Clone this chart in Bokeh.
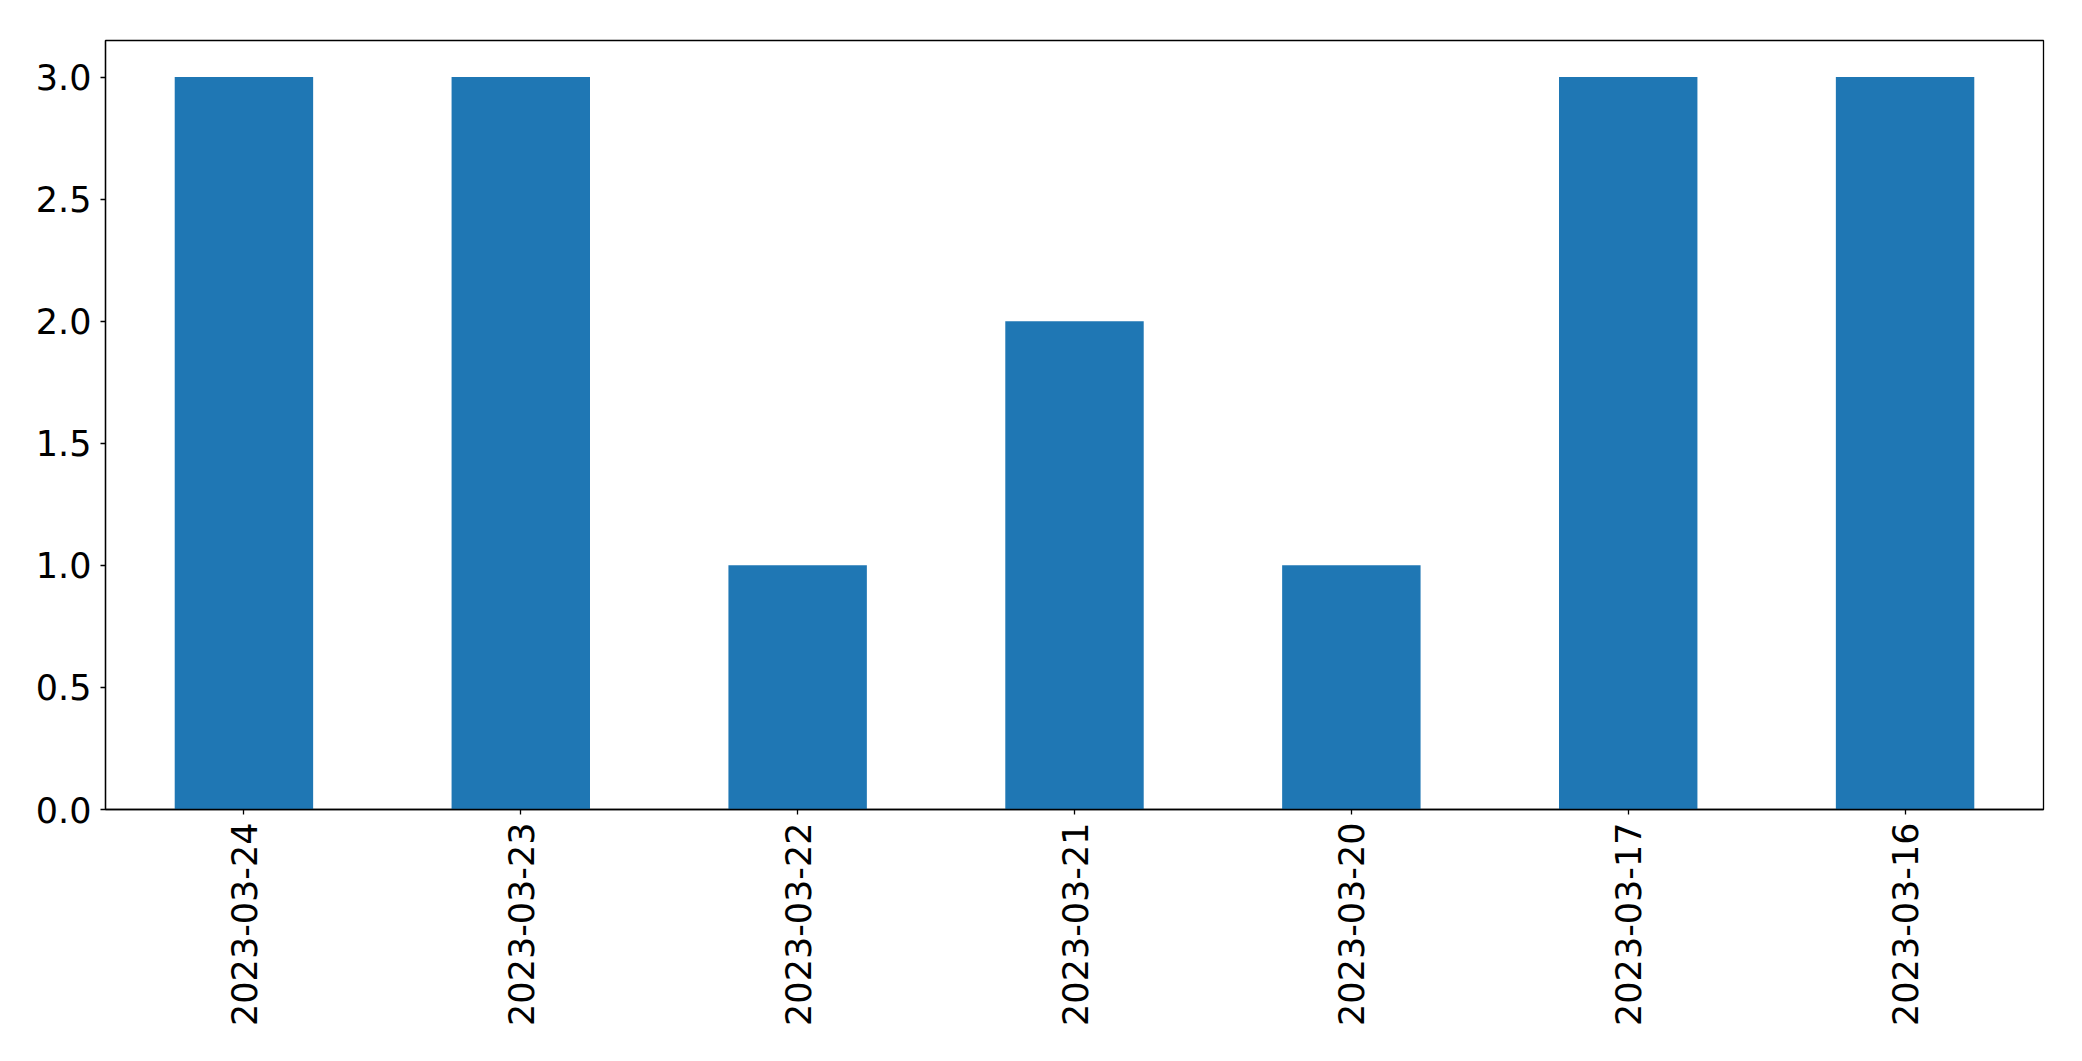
import math
from bokeh.plotting import figure
from bokeh.models import FactorRange, Range1d, FixedTicker, NumeralTickFormatter
from bokeh.embed import file_html
from bokeh.resources import INLINE

dates = ["2023-03-24", "2023-03-23", "2023-03-22", "2023-03-21", "2023-03-20", "2023-03-17", "2023-03-16"]
counts = [3, 3, 1, 2, 1, 3, 3]
y_ticks = [0.0, 0.5, 1.0, 1.5, 2.0, 2.5, 3.0]

p = figure(
    width=2070, height=1050,
    x_range=FactorRange(factors=dates),
    y_range=Range1d(0, 3.15),
    output_backend="svg", toolbar_location=None,
    min_border_left=105, min_border_right=27, min_border_top=40, min_border_bottom=241,
)
p.vbar(x=dates, top=counts, width=0.5, color="#1f77b4", line_color=None)

p.xgrid.visible = False
p.ygrid.visible = False
p.outline_line_color = "black"
p.outline_line_width = 1.3
p.outline_line_alpha = 1

p.yaxis.ticker = FixedTicker(ticks=y_ticks)
p.yaxis.formatter = NumeralTickFormatter(format="0.0")

for ax in (p.xaxis[0], p.yaxis[0]):
    ax.axis_line_color = "black"
    ax.axis_line_width = 1.3
    ax.major_tick_line_color = "black"
    ax.major_tick_line_width = 1.3
    ax.major_tick_out = 5
    ax.major_tick_in = 0
    ax.minor_tick_line_color = None
    ax.major_label_text_font = "DejaVu Sans"
    ax.major_label_text_font_size = "35px"
    ax.major_label_text_color = "black"

p.yaxis.major_label_standoff = 9
p.xaxis.major_label_standoff = 8
p.xaxis.major_label_orientation = math.pi / 2

open("out.html", "w").write(file_html(p, INLINE))
